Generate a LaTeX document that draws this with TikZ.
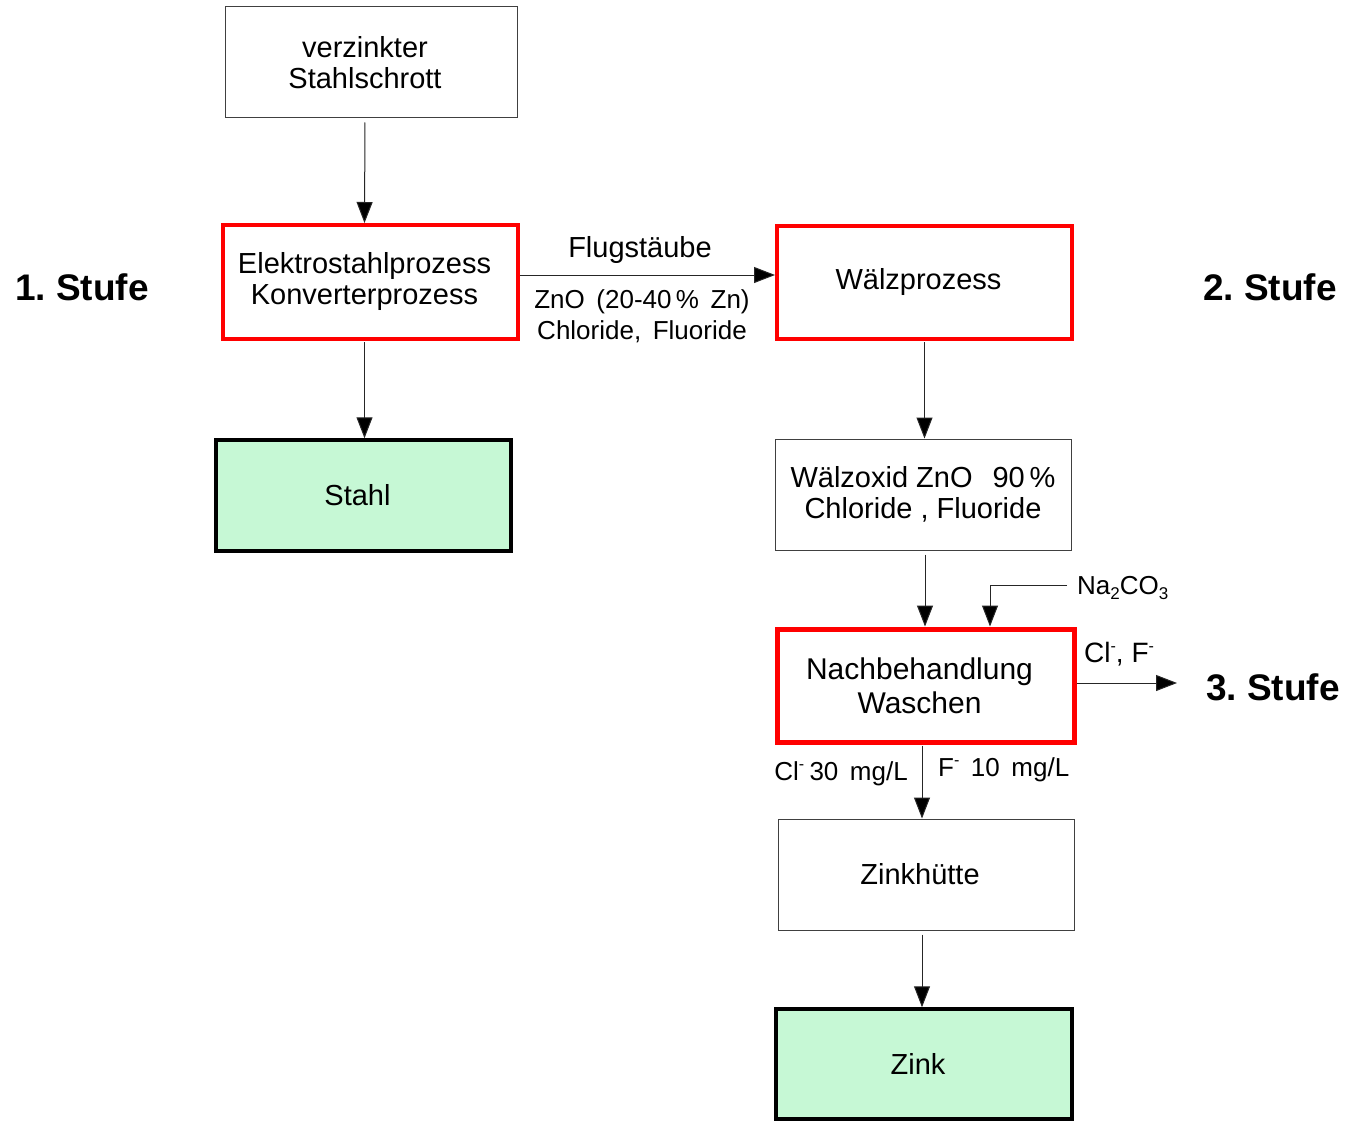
\documentclass[tikz,border=0pt]{standalone}
\usepackage{fontspec}
\setmainfont{Liberation Sans}
\usetikzlibrary{arrows.meta}
\definecolor{mint}{HTML}{C6F8D5}
\frenchspacing
\newcommand{\fs}[1]{\fontsize{#1}{#1}\selectfont}
\newcommand{\dn}[1]{\raisebox{-5pt}{\fontsize{17}{17}\selectfont #1}}
\newcommand{\up}[1]{\raisebox{11pt}{\fontsize{16}{16}\selectfont #1}}
\newcommand{\sh}[1]{#1\hspace*{12pt}}
\begin{document}
\begin{tikzpicture}[x=1pt,y=-1pt,
  thinbox/.style={draw=black!75,line width=1pt,fill=white,align=center,inner sep=0pt,
     font=\fontsize{29}{31}\selectfont},
  redbox/.style={thinbox,draw=red,line width=4pt},
  endbox/.style={thinbox,draw=black,line width=3.5pt,fill=mint},
  arr/.style={draw=black!85,line width=1pt,-{Triangle[length=21pt,width=16pt,fill=black]}},
  lbl/.style={inner sep=0pt,align=center},
  stufe/.style={inner sep=0pt,font=\bfseries\fontsize{37}{37}\selectfont}]
\useasboundingbox (0,0) rectangle (1346,1121);
\fill[white] (0,0) rectangle (1346,1121);

\node[thinbox,minimum width=292pt,minimum height=111pt] (top) at (371,62.5) {\sh{verzinkter}\\\sh{Stahlschrott}};
\node[redbox,minimum width=295pt,minimum height=114pt] (ele) at (370.5,282) {\sh{Elektrostahlprozess}\\\sh{Konverterprozess}};
\node[endbox,minimum width=295pt,minimum height=111pt] (stahl) at (363.5,495.5) {\sh{Stahl}};
\node[redbox,minimum width=295pt,minimum height=113pt] (walz) at (924.5,282.5) {\sh{Wälzprozess}};
\node[thinbox,minimum width=296pt,minimum height=111pt] (oxid) at (923,494.5) {Wälzoxid ZnO\hspace{20pt}90\,\%\\Chloride , Fluoride};
\node[redbox,line width=5pt,minimum width=297pt,minimum height=113pt,font=\fontsize{30}{34}\selectfont] (nach) at (925.5,685.5) {\sh{Nachbehandlung}\\\sh{Waschen}};
\node[thinbox,minimum width=296pt,minimum height=111pt] (hutte) at (926,874.5) {\sh{Zinkhütte}};
\node[endbox,minimum width=296pt,minimum height=110pt] (zink) at (924,1064) {\sh{Zink}};

\node[stufe] (s1) at (82,287) {1. Stufe};
\node[stufe] (s2) at (1270,287) {2. Stufe};
\node[stufe] (s3) at (1273,687) {3. Stufe};

% connectors
\draw[arr,shorten <=4pt] ([xshift=-6pt]top.south) -- ([xshift=-6pt]ele.north);
\draw[arr,shorten <=1pt] ([xshift=-6pt]ele.south) -- ([xshift=-6pt]ele.south |- stahl.north);
\draw[arr] ([yshift=7pt]ele.east) -- ([yshift=7pt]ele.east -| walz.west);
\draw[arr,shorten <=1pt] (walz.south) -- (walz.south |- oxid.north);
\draw[arr,shorten <=4pt] ([xshift=2pt]oxid.south) -- ([xshift=2pt]oxid.south |- nach.north);
\coordinate (na) at (1067,585);
\draw[arr] (na) -| ([xshift=64.5pt]nach.north);
\coordinate (out) at (1177,683);
\draw[arr] ([yshift=2.5pt]nach.east) -- (out);
\draw[arr,shorten <=1pt] ([xshift=-3.5pt]nach.south) -- ([xshift=-3.5pt]nach.south |- hutte.north);
\draw[arr,shorten <=4pt] ([xshift=-4pt]hutte.south) -- ([xshift=-4pt]hutte.south |- zink.north);

% labels
\node[lbl,font=\fs{29}] (flug) at (640,250) {Flugstäube};
\node[lbl,font=\fontsize{26}{31}\selectfont] (zno) at (642,316) {ZnO\, (20-40\,\%\, Zn)\\Chloride,\, Fluoride};
\node[lbl,font=\fs{26},anchor=west] (nalbl) at (1077,588) {Na\dn{2}CO\dn{3}};
\node[lbl,font=\fs{28},anchor=west] (clf) at (1084,654) {Cl\up{-}, F\up{-}};
\node[lbl,font=\fs{26},anchor=east] (cl30) at (908,774) {Cl\up{-}\hspace{-2pt} 30\, mg/L};
\node[lbl,font=\fs{26},anchor=west] (f10) at (938,770) {F\up{-}\, 10\, mg/L};
\end{tikzpicture}
\end{document}
